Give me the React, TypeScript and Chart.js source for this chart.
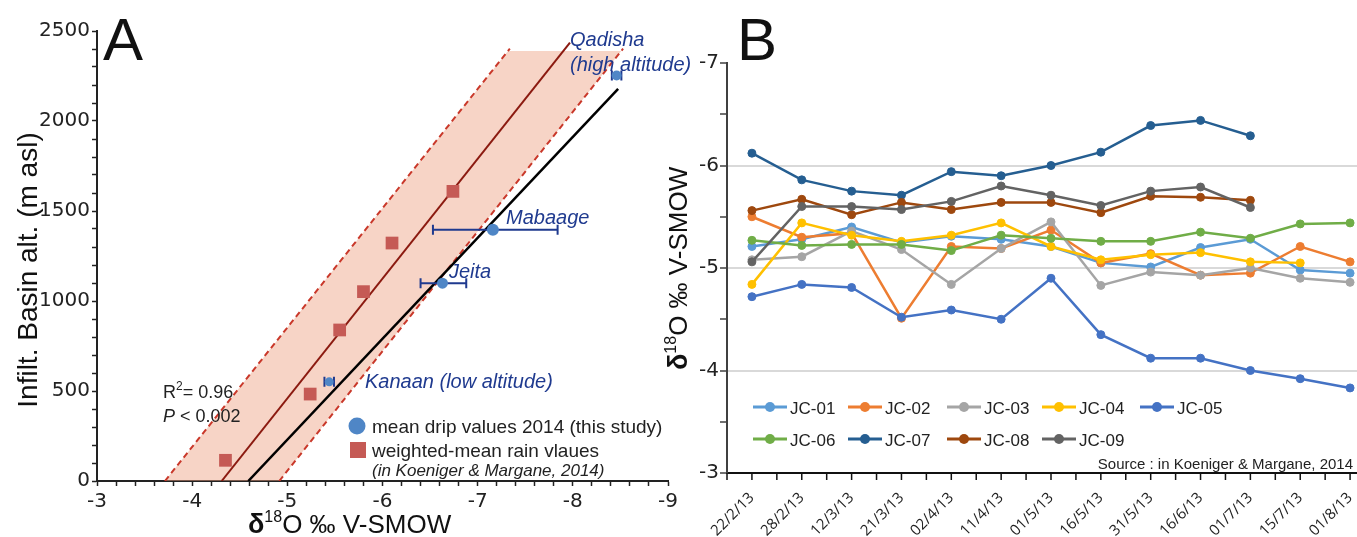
import React, { useEffect, useRef } from 'react';
import { Chart, registerables } from 'chart.js';
Chart.register(...registerables);

// ---------------- Panel A data ----------------
const rainDelta = [-4.35, -5.24, -5.55, -5.8, -6.1, -6.74];
const rainAlt = [115, 483, 839, 1052, 1322, 1609];
const dripNames = ['Kanaan (low altitude)', 'Jeita', 'Mabaage', 'Qadisha'];
const dripDelta = [-5.44, -6.63, -7.16, -8.46];
const dripAlt = [551, 1099, 1396, 2253];
const dripErrMin = [-5.39, -6.4, -6.53, -8.41];
const dripErrMax = [-5.49, -6.88, -7.84, -8.51];
const rainFitDelta = [-4.31, -7.97];
const rainFitAlt = [0, 2435];
const bandLeftDelta = [-3.714, -7.338];
const bandRightDelta = [-4.915, -8.528];
const bandLineAlt = [0, 2402];
const bandFillDelta = [-3.714, -7.318, -8.509, -4.915];
const bandFillAlt = [0, 2389, 2389, 0];
const dripFitDelta = [-4.59, -8.476];
const dripFitAlt = [0, 2179];
const altLabels = [0, 500, 1000, 1500, 2000, 2500];
const deltaLabelsA = [-3, -4, -5, -6, -7, -8, -9];

// ---------------- Panel B data ----------------
const dates = ['22/2/13', '28/2/13', '12/3/13', '21/3/13', '02/4/13', '11/4/13', '01/5/13', '16/5/13', '31/5/13', '16/6/13', '01/7/13', '15/7/13', '01/8/13'];
const seriesNames = ['JC-01', 'JC-02', 'JC-03', 'JC-04', 'JC-05', 'JC-06', 'JC-07', 'JC-08', 'JC-09'];
const JC01 = [-5.21, -5.28, -5.4, -5.25, -5.31, -5.28, -5.21, -5.05, -5.01, -5.2, -5.28, -4.98, -4.95];
const JC02 = [-5.5, -5.3, -5.34, -4.51, -5.21, -5.19, -5.37, -5.05, -5.14, -4.93, -4.95, -5.21, -5.06];
const JC03 = [-5.08, -5.11, -5.36, -5.18, -4.84, -5.19, -5.45, -4.83, -4.96, -4.93, -5.0, -4.9, -4.86];
const JC04 = [-4.84, -5.44, -5.32, -5.26, -5.32, -5.44, -5.21, -5.08, -5.13, -5.15, -5.06, -5.05, null];
const JC05 = [-4.72, -4.84, -4.81, -4.52, -4.59, -4.5, -4.9, -4.35, -4.12, -4.12, -4.0, -3.92, -3.83];
const JC06 = [-5.27, -5.22, -5.23, -5.23, -5.17, -5.32, -5.29, -5.26, -5.26, -5.35, -5.29, -5.43, -5.44];
const JC07 = [-6.12, -5.86, -5.75, -5.71, -5.94, -5.9, -6.0, -6.13, -6.39, -6.44, -6.29, null, null];
const JC08 = [-5.56, -5.67, -5.52, -5.64, -5.57, -5.64, -5.64, -5.54, -5.7, -5.69, -5.66, null, null];
const JC09 = [-5.06, -5.6, -5.6, -5.57, -5.65, -5.8, -5.71, -5.61, -5.75, -5.79, -5.59, null, null];
const seriesValues = [JC01, JC02, JC03, JC04, JC05, JC06, JC07, JC08, JC09];
const seriesColors = ['#5B9BD5', '#ED7D31', '#A5A5A5', '#FFC000', '#4472C4', '#70AD47', '#255E91', '#9E480E', '#636363'];
const deltaLabelsB = [-7, -6, -5, -4, -3];
const gridValuesB = [-6, -5, -4];

// ---------------- helpers ----------------
const SANS = '"Liberation Sans", Arial, sans-serif';
const TICKF = 'DejaVu Sans';
const NAVY = '#1F3A8F';

type Run = { t: string; f: string; dy?: number };
function drawRuns(ctx: CanvasRenderingContext2D, runs: Run[], x: number, y: number, color: string, align: 'left' | 'right' | 'center' = 'left', rot = 0) {
  ctx.save();
  ctx.translate(x, y);
  if (rot) ctx.rotate(rot);
  ctx.fillStyle = color;
  ctx.textBaseline = 'alphabetic';
  ctx.textAlign = 'left';
  let total = 0;
  const widths = runs.map((r) => {
    ctx.font = r.f;
    const w = ctx.measureText(r.t).width;
    total += w;
    return w;
  });
  let cx = align === 'left' ? 0 : align === 'right' ? -total : -total / 2;
  runs.forEach((r, i) => {
    ctx.font = r.f;
    ctx.fillText(r.t, cx, r.dy || 0);
    cx += widths[i];
  });
  ctx.restore();
}
const zip = (xs: number[], ys: number[]) => xs.map((x, i) => ({ x, y: ys[i] }));
const isInt = (v: number) => Math.abs(v - Math.round(v)) < 1e-6;

function PanelA() {
  const ref = useRef<HTMLCanvasElement>(null);
  useEffect(() => {
    const decor = {
      id: 'decorA',
      afterDatasetDraw(chart: any, args: any) {
        if (args.meta.label !== 'dripFit') return;
        const ctx = chart.ctx as CanvasRenderingContext2D;
        const xs = chart.scales.x, ys = chart.scales.y;
        ctx.save();
        ctx.strokeStyle = NAVY;
        ctx.lineWidth = 2;
        dripDelta.forEach((_, i) => {
          const x1 = xs.getPixelForValue(dripErrMin[i]);
          const x2 = xs.getPixelForValue(dripErrMax[i]);
          const y = ys.getPixelForValue(dripAlt[i]);
          ctx.beginPath();
          ctx.moveTo(x1, y); ctx.lineTo(x2, y);
          ctx.moveTo(x1, y - 5); ctx.lineTo(x1, y + 5);
          ctx.moveTo(x2, y - 5); ctx.lineTo(x2, y + 5);
          ctx.stroke();
        });
        ctx.restore();
      },
      afterDraw(chart: any) {
        const ctx = chart.ctx as CanvasRenderingContext2D;
        drawRuns(ctx, [{ t: 'A', f: `60px ${SANS}` }], 103, 60, '#111');
        drawRuns(ctx, [{ t: 'Infilt. Basin alt. (m asl)', f: `28px ${SANS}` }], 37, 270, '#111', 'center', -Math.PI / 2);
        drawRuns(ctx, [
          { t: 'δ', f: `bold 27px ${SANS}` },
          { t: '18', f: `16px ${SANS}`, dy: -11 },
          { t: 'O ‰ V-SMOW', f: `26px ${SANS}` },
        ], 248, 533, '#111');
        const it = `italic 20px ${SANS}`;
        drawRuns(ctx, [{ t: 'Qadisha', f: it }], 570, 46, NAVY);
        drawRuns(ctx, [{ t: '(high altitude)', f: it }], 570, 71, NAVY);
        drawRuns(ctx, [{ t: dripNames[2], f: it }], 506, 224, NAVY);
        drawRuns(ctx, [{ t: dripNames[1], f: it }], 449, 278, NAVY);
        drawRuns(ctx, [{ t: dripNames[0], f: it }], 365, 388, NAVY);
        drawRuns(ctx, [
          { t: 'R', f: `18px ${SANS}` },
          { t: '2', f: `12px ${SANS}`, dy: -8 },
          { t: '= 0.96', f: `18px ${SANS}` },
        ], 163, 398, '#222');
        drawRuns(ctx, [
          { t: 'P', f: `italic 18px ${SANS}` },
          { t: ' < 0.002', f: `18px ${SANS}` },
        ], 163, 422, '#222');
        // legend
        ctx.save();
        ctx.fillStyle = '#4F86C6';
        ctx.beginPath(); ctx.arc(357, 426, 8.5, 0, Math.PI * 2); ctx.fill();
        ctx.fillStyle = '#C55A55';
        ctx.fillRect(350, 442, 16, 16);
        ctx.restore();
        drawRuns(ctx, [{ t: 'mean drip values 2014 (this study)', f: `19px ${SANS}` }], 372, 433, '#222');
        drawRuns(ctx, [{ t: 'weighted-mean rain vlaues', f: `19px ${SANS}` }], 372, 457, '#222');
        drawRuns(ctx, [{ t: '(in Koeniger & Margane, 2014)', f: `italic 17px ${SANS}` }], 372, 476, '#222');
      },
    };
    const chart = new Chart(ref.current as HTMLCanvasElement, {
      type: 'line',
      data: {
        datasets: [
          { label: 'band', data: zip(bandFillDelta, bandFillAlt), fill: 'shape', backgroundColor: 'rgba(238,160,128,0.45)', borderColor: 'rgba(0,0,0,0)', borderWidth: 0, pointRadius: 0, order: 10 } as any,
          { label: 'dashL', data: zip(bandLeftDelta, bandLineAlt), borderColor: '#C9382A', borderWidth: 2, borderDash: [6, 4], pointRadius: 0, fill: false, order: 9 },
          { label: 'dashR', data: zip(bandRightDelta, bandLineAlt), borderColor: '#C9382A', borderWidth: 2, borderDash: [6, 4], pointRadius: 0, fill: false, order: 9 },
          { label: 'rainFit', data: zip(rainFitDelta, rainFitAlt), borderColor: '#8B1A10', borderWidth: 2, pointRadius: 0, fill: false, order: 8 },
          { label: 'dripFit', data: zip(dripFitDelta, dripFitAlt), borderColor: '#000', borderWidth: 2.5, pointRadius: 0, fill: false, order: 7 },
          { label: 'rain', data: zip(rainDelta, rainAlt), showLine: false, pointStyle: 'rect', pointRadius: 9, backgroundColor: '#C55A55', borderColor: '#C55A55', borderWidth: 0, order: 2 },
          { label: 'drip', data: zip(dripDelta, dripAlt), showLine: false, pointStyle: 'circle', pointRadius: [4.5, 5.5, 6, 5], backgroundColor: '#4F86C6', borderColor: '#4F86C6', borderWidth: 0, order: 1 },
        ],
      },
      options: {
        responsive: false,
        animation: false,
        events: [],
        layout: { padding: { left: 0, top: 31, right: 32, bottom: 0 } },
        plugins: { legend: { display: false }, tooltip: { enabled: false } },
        scales: {
          x: {
            type: 'linear', min: -9, max: -3, reverse: true,
            grid: { drawOnChartArea: false, drawTicks: true, tickLength: 5, tickColor: '#222', tickWidth: 1.5 },
            border: { display: true, color: '#222', width: 2 },
            ticks: {
              stepSize: 0.2, autoSkip: false, maxRotation: 0, padding: 4, color: '#222',
              font: { family: TICKF, size: 20 },
              callback: (v: any) => (isInt(v) && deltaLabelsA.includes(Math.round(v)) ? String(Math.round(v)) : ''),
            },
            afterFit: (s: any) => { s.height = 56; },
          },
          y: {
            type: 'linear', min: 0, max: 2500,
            grid: { drawOnChartArea: false, drawTicks: true, tickLength: 5, tickColor: '#222', tickWidth: 1.5 },
            border: { display: true, color: '#222', width: 2 },
            ticks: {
              stepSize: 100, autoSkip: false, padding: 2, color: '#222',
              font: { family: TICKF, size: 20 },
              callback: (v: any) => (altLabels.includes(Math.round(v)) ? String(Math.round(v)) : ''),
            },
            afterFit: (s: any) => { s.width = 97; },
          },
        },
      } as any,
      plugins: [decor],
    });
    return () => chart.destroy();
  }, []);
  return <canvas ref={ref} width={700} height={537} style={{ position: 'absolute', left: 0, top: 0, width: 700, height: 537 }} />;
}

function PanelB() {
  const ref = useRef<HTMLCanvasElement>(null);
  useEffect(() => {
    const OFF = 660;
    const legendCols = [753, 848, 947, 1042, 1140];
    const legendRows = [407, 439];
    const decor = {
      id: 'decorB',
      afterDraw(chart: any) {
        const ctx = chart.ctx as CanvasRenderingContext2D;
        const xs = chart.scales.x;
        const step = xs.getPixelForValue(1) - xs.getPixelForValue(0);
        ctx.save();
        ctx.strokeStyle = '#111';
        ctx.lineWidth = 1.5;
        ctx.beginPath();
        for (let i = 0; i <= dates.length; i++) {
          const c = xs.getPixelForValue(Math.min(i, dates.length - 1));
          const edge = i < dates.length ? c - step / 2 : c + step / 2;
          ctx.moveTo(edge, xs.top); ctx.lineTo(edge, xs.top + 7);
          if (i < dates.length) { ctx.moveTo(c, xs.top); ctx.lineTo(c, xs.top + 7); }
        }
        ctx.stroke();
        ctx.restore();
        drawRuns(ctx, [{ t: 'B', f: `60px ${SANS}` }], 737 - OFF, 60, '#111');
        drawRuns(ctx, [
          { t: 'δ', f: `bold 27px ${SANS}` },
          { t: '18', f: `16px ${SANS}`, dy: -11 },
          { t: 'O ‰ V-SMOW', f: `26px ${SANS}` },
        ], 687 - OFF, 370, '#111', 'left', -Math.PI / 2);
        drawRuns(ctx, [{ t: 'Source : in Koeniger & Margane, 2014', f: `15px ${SANS}` }], 1353 - OFF, 469, '#222', 'right');
        seriesNames.forEach((name, i) => {
          const row = i < 5 ? 0 : 1;
          const col = i < 5 ? i : i - 5;
          const x0 = legendCols[col] - OFF;
          const y = legendRows[row];
          ctx.save();
          ctx.strokeStyle = seriesColors[i];
          ctx.fillStyle = seriesColors[i];
          ctx.lineWidth = 3;
          ctx.beginPath(); ctx.moveTo(x0, y); ctx.lineTo(x0 + 34, y); ctx.stroke();
          ctx.beginPath(); ctx.arc(x0 + 17, y, 5, 0, Math.PI * 2); ctx.fill();
          ctx.restore();
          drawRuns(ctx, [{ t: name, f: `17px ${SANS}` }], x0 + 37, y + 7, '#222');
        });
      },
    };
    const chart = new Chart(ref.current as HTMLCanvasElement, {
      type: 'line',
      data: {
        labels: dates,
        datasets: seriesValues.map((vals, i) => ({
          label: seriesNames[i],
          data: vals,
          borderColor: seriesColors[i],
          backgroundColor: seriesColors[i],
          pointBackgroundColor: seriesColors[i],
          pointBorderColor: seriesColors[i],
          pointRadius: 4,
          pointBorderWidth: 1,
          borderWidth: 2.5,
          tension: 0,
          spanGaps: false,
          fill: false,
          order: 9 - i,
        })),
      },
      options: {
        responsive: false,
        animation: false,
        events: [],
        layout: { padding: { left: 0, top: 63, right: 2, bottom: 0 } },
        plugins: { legend: { display: false }, tooltip: { enabled: false } },
        scales: {
          x: {
            type: 'category', offset: true,
            grid: { display: false },
            border: { display: true, color: '#111', width: 2 },
            ticks: { autoSkip: false, minRotation: 45, maxRotation: 45, padding: 8, color: '#222', font: { family: 'Open Sans', size: 15 } },
            afterFit: (s: any) => { s.height = 64; },
          },
          y: {
            type: 'linear', min: -7, max: -3, reverse: true,
            grid: {
              color: (c: any) => (c.tick && gridValuesB.some((g) => Math.abs(g - c.tick.value) < 1e-6) ? '#d9d9d9' : 'rgba(0,0,0,0)'),
              lineWidth: 2, drawTicks: true, tickLength: 7, tickColor: '#404040', tickWidth: 1.5,
            },
            border: { display: true, color: '#404040', width: 2 },
            ticks: {
              stepSize: 0.5, autoSkip: false, padding: 1, color: '#222',
              font: { family: TICKF, size: 20 },
              callback: (v: any) => (isInt(v) && deltaLabelsB.includes(Math.round(v)) ? String(Math.round(v)) : ''),
            },
            afterFit: (s: any) => { s.width = 67; },
          },
        },
      } as any,
      plugins: [decor],
    });
    return () => chart.destroy();
  }, []);
  return <canvas ref={ref} width={720} height={537} style={{ position: 'absolute', left: 660, top: 0, width: 720, height: 537 }} />;
}

export default function App() {
  return (
    <div style={{ position: 'fixed', left: 0, top: 0, width: 1357, height: 537, overflow: 'hidden', background: '#fff' }}>
      <PanelA />
      <PanelB />
    </div>
  );
}
